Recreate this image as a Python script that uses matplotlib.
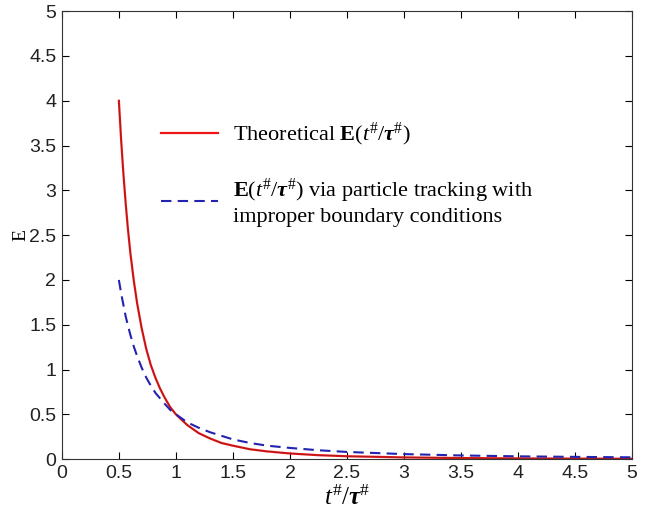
import matplotlib.pyplot as plt

plt.rcParams['mathtext.fontset'] = 'custom'
plt.rcParams['mathtext.rm'] = 'Liberation Serif'
plt.rcParams['mathtext.it'] = 'Liberation Serif:italic'
plt.rcParams['mathtext.bf'] = 'Liberation Serif:bold'
plt.rcParams['mathtext.bfit'] = 'Liberation Serif:italic:bold'

# Data
t = [0.5, 0.52, 0.54, 0.56, 0.58, 0.6, 0.63, 0.66, 0.7, 0.74, 0.78, 0.82, 0.86,
     0.9, 0.95, 1.0, 1.1, 1.2, 1.3, 1.4, 1.5, 1.65, 1.8, 2.0, 2.25, 2.5, 3.0,
     3.5, 4.0, 4.5, 5.0]
e_theory = [4.0, 3.56, 3.18, 2.85, 2.56, 2.31, 2.0, 1.74, 1.46, 1.23, 1.05,
            0.91, 0.79, 0.69, 0.58, 0.50, 0.38, 0.29, 0.23, 0.18, 0.15, 0.11,
            0.086, 0.063, 0.044, 0.032, 0.019, 0.012, 0.008, 0.0055, 0.004]
e_tracking = [2.0, 1.85, 1.72, 1.59, 1.49, 1.39, 1.26, 1.15, 1.02, 0.91, 0.82,
              0.74, 0.68, 0.62, 0.55, 0.50, 0.41, 0.35, 0.30, 0.26, 0.22, 0.18,
              0.15, 0.125, 0.099, 0.08, 0.056, 0.041, 0.031, 0.025, 0.02]
ticks = [0, 0.5, 1, 1.5, 2, 2.5, 3, 3.5, 4, 4.5, 5]
tick_labels = ['0', '0.5', '1', '1.5', '2', '2.5', '3', '3.5', '4', '4.5', '5']

fig = plt.figure(figsize=(6.51, 5.09), dpi=100)
ax = fig.add_axes([0.095, 0.098, 0.876, 0.880])

ax.plot(t, e_theory, color='#ee1515', lw=1.6,
        label=r'Theoretical $\mathbf{E}(t^{\#}/\boldsymbol{\tau}^{\#})$')
ax.plot(t, e_theory, color='#7a2020', lw=0.4)
ax.plot(t, e_tracking, color='#2323b0', lw=1.5, ls=(0, (5, 3)),
        label='$\\mathbf{E}(t^{\\#}/\\boldsymbol{\\tau}^{\\#})$ via particle tracking with\nimproper boundary conditions')

ax.set_xlim(0, 5)
ax.set_ylim(0, 5)
ax.set_xticks(ticks)
ax.set_xticklabels(tick_labels)
ax.set_yticks(ticks)
ax.set_yticklabels(tick_labels)
ax.tick_params(direction='in', top=True, right=True, length=5, width=0.8,
               labelsize=14, pad=4, labelcolor='#222222')
for lab in ax.get_xticklabels() + ax.get_yticklabels():
    lab.set_family('Liberation Sans')
for s in ax.spines.values():
    s.set_linewidth(0.8)
    s.set_color('#333333')

ax.set_xlabel(r'$t^{\#}/\boldsymbol{\tau}^{\#}$', fontsize=18, labelpad=3)
ax.set_ylabel('E', fontsize=14, family='Liberation Serif', labelpad=0)

leg = ax.legend(loc='upper left', bbox_to_anchor=(0.138, 0.80), frameon=False,
                prop={'family': 'Liberation Serif', 'size': 16},
                handlelength=2.6, handletextpad=0.65, labelspacing=1.3)

plt.savefig('out.png', dpi=100)
